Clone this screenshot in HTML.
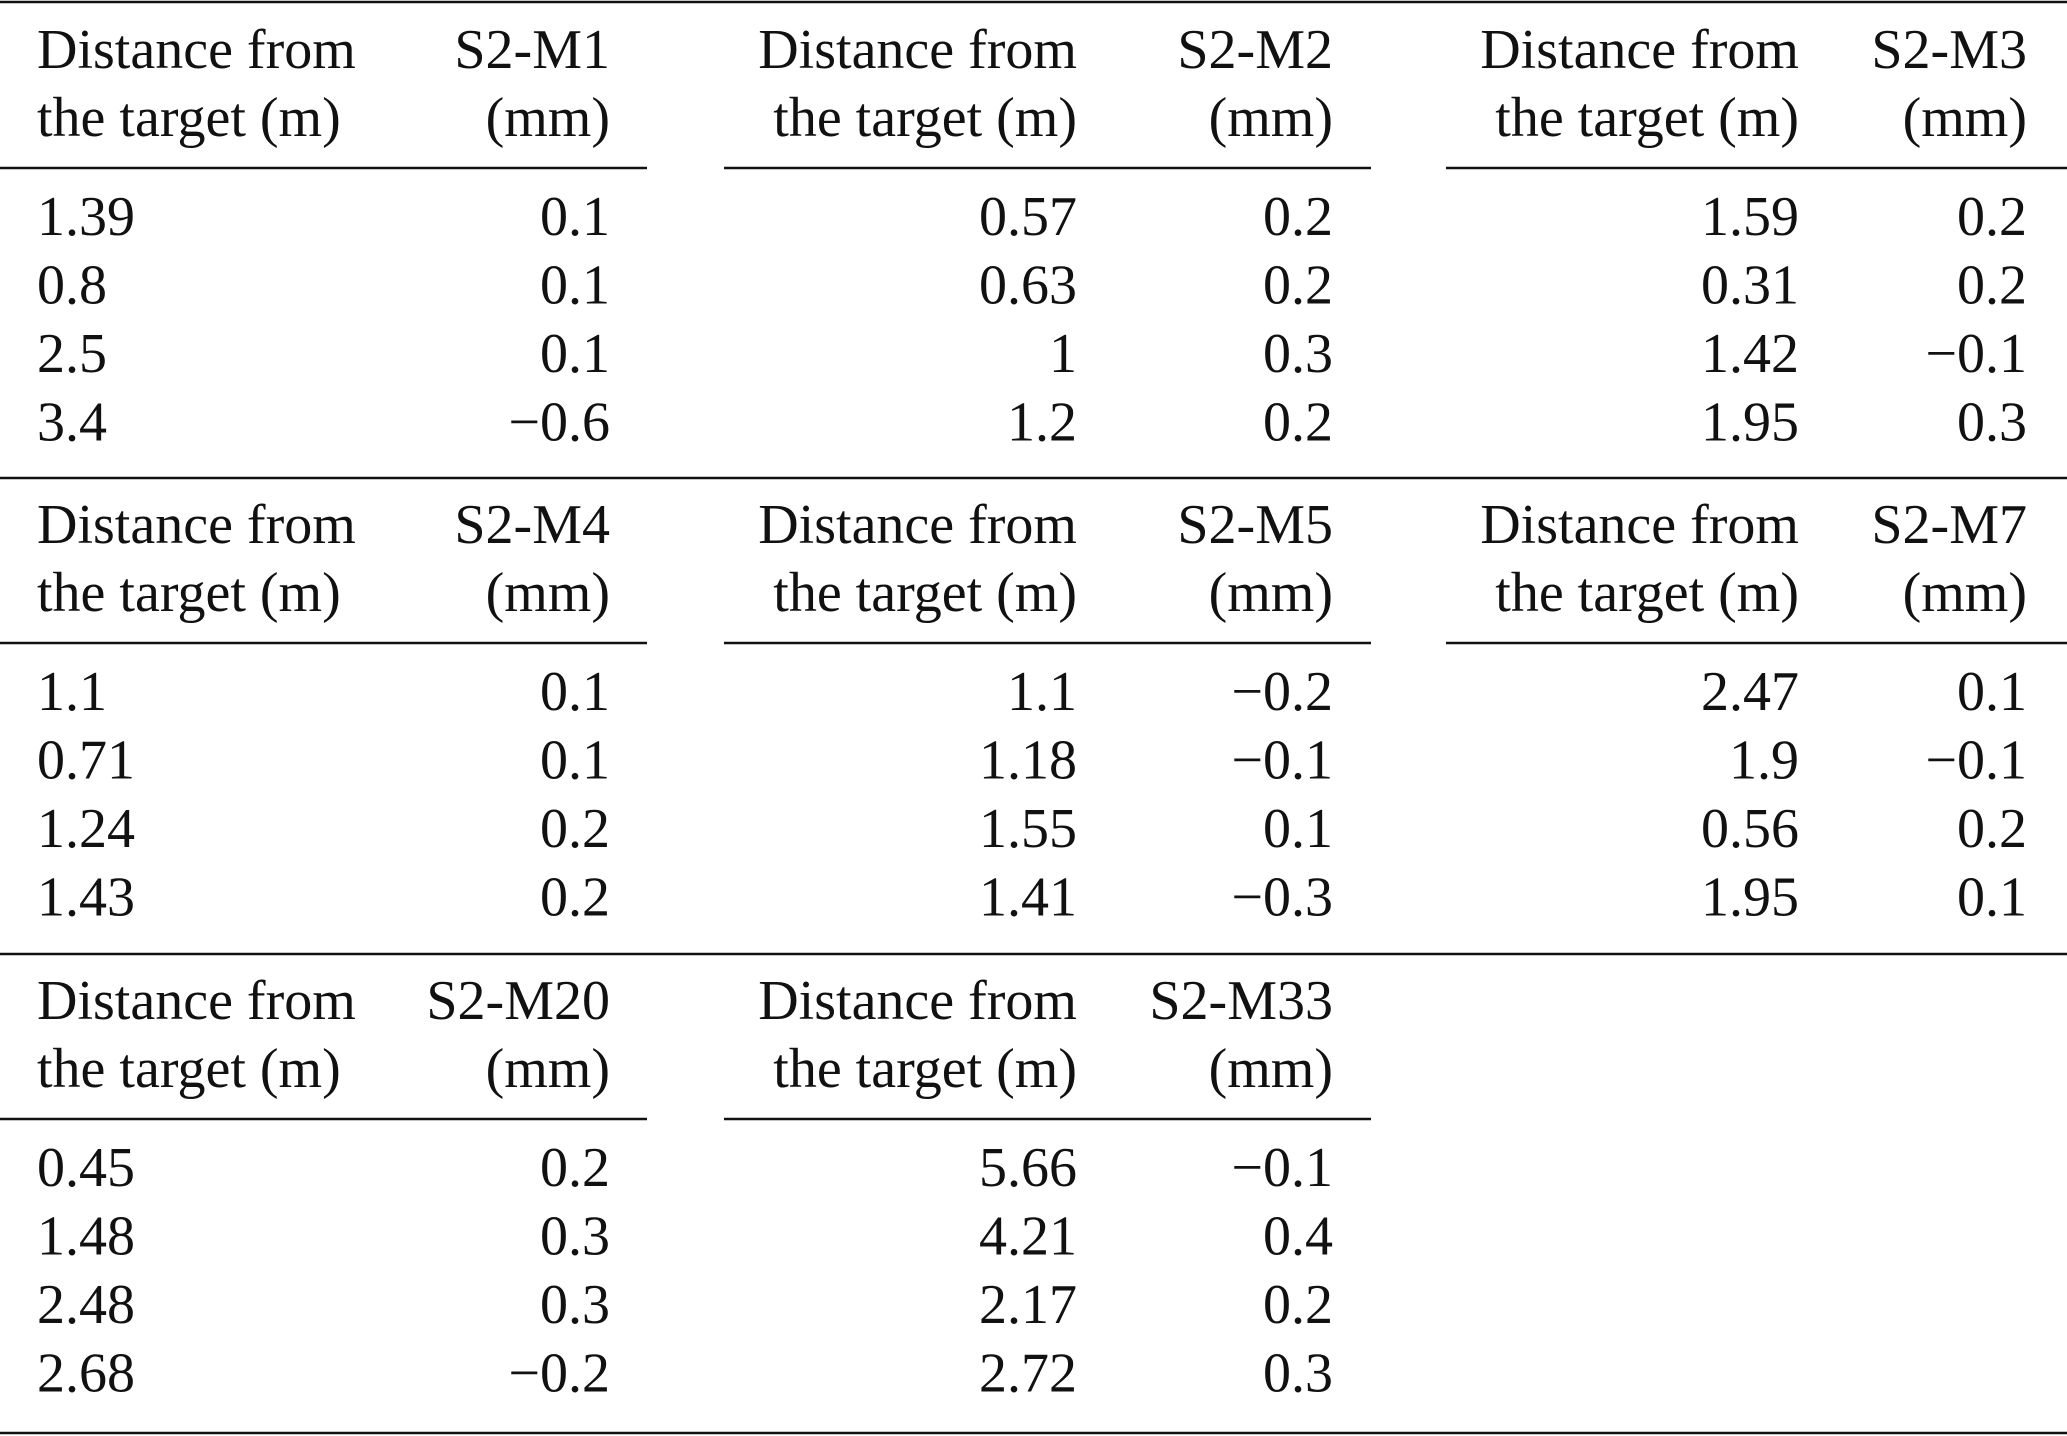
<!DOCTYPE html>
<html><head><meta charset="utf-8">
<style>
html,body{margin:0;padding:0;background:#fff;}
svg{display:block;}
text{font-family:"Liberation Serif",serif;font-size:56px;fill:#111;}
</style></head>
<body>
<svg id="tbl" width="2067" height="1436" viewBox="0 0 2067 1436" xmlns="http://www.w3.org/2000/svg"></svg>
<script>
const sensors = [["S2-M1","S2-M2","S2-M3"],["S2-M4","S2-M5","S2-M7"],["S2-M20","S2-M33"]];
const distances = [
  [["1.39","0.8","2.5","3.4"],["0.57","0.63","1","1.2"],["1.59","0.31","1.42","1.95"]],
  [["1.1","0.71","1.24","1.43"],["1.1","1.18","1.55","1.41"],["2.47","1.9","0.56","1.95"]],
  [["0.45","1.48","2.48","2.68"],["5.66","4.21","2.17","2.72"]]
];
const values = [
  [["0.1","0.1","0.1","\u22120.6"],["0.2","0.2","0.3","0.2"],["0.2","0.2","\u22120.1","0.3"]],
  [["0.1","0.1","0.2","0.2"],["\u22120.2","\u22120.1","0.1","\u22120.3"],["0.1","\u22120.1","0.2","0.1"]],
  [["0.2","0.3","0.3","\u22120.2"],["\u22120.1","0.4","0.2","0.3"]]
];
const svg = document.getElementById('tbl');
const NS = "http://www.w3.org/2000/svg";
const groupX = [{l:0,r:647,dx:37,da:"start",vx:610},{l:724,r:1371,dx:1077,da:"end",vx:1333},{l:1446,r:2067,dx:1799,da:"end",vx:2027}];
const sectionTop = [3,478,954];
function line(x1,y1,x2,y2,name){
  const l=document.createElementNS(NS,'line');
  l.setAttribute('x1',x1);l.setAttribute('y1',y1);l.setAttribute('x2',x2);l.setAttribute('y2',y2);
  l.setAttribute('stroke','#111');l.setAttribute('stroke-width','2.5');
  
  
  svg.appendChild(l);
}
function txt(x,y,s,anchor,name){
  const t=document.createElementNS(NS,'text');
  t.setAttribute('x',x);t.setAttribute('y',y);t.setAttribute('text-anchor',anchor);
  t.textContent=s;
  
  
  svg.appendChild(t);
}
line(0,2,2067,2,'top-rule');
line(0,1433,2067,1433,'bottom-rule');
sensors.forEach((row,si)=>{
  const top = sectionTop[si];
  if(si>0) line(0,top,2067,top,'section-rule');
  row.forEach((name,gi)=>{
    const g=groupX[gi];
    txt(g.dx,top+65,"Distance from",g.da,'distance-header');
    txt(g.dx,top+133,"the target (m)",g.da,'distance-header');
    txt(g.vx,top+65,name,"end",'sensor-header');
    txt(g.vx,top+133,"(mm)","end",'unit-header');
    line(g.l,top+165,g.r,top+165,'header-rule');
    distances[si][gi].forEach((d,ri)=>{
      const y=top+232+ri*68.5;
      txt(g.dx,y,d,g.da,'distance-cell');
      txt(g.vx,y,values[si][gi][ri],"end",'value-cell');
    });
  });
});
</script>
</body></html>
